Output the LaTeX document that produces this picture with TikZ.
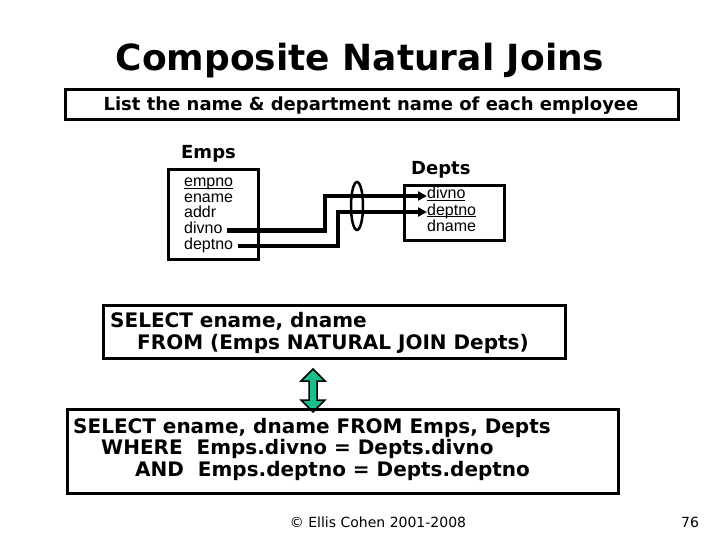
\documentclass[tikz,border=0pt]{standalone}
\usepackage{fontspec}
\setmainfont{DejaVu Sans}
\newfontfamily\arialf{Liberation Sans}
\usetikzlibrary{arrows.meta,shapes.geometric}
\definecolor{arrgreen}{RGB}{26,190,140}
\newcommand{\ul}[1]{\underline{\smash{#1}}}
\tikzset{
  frame/.style={draw=black,line width=3pt},
  boldtxt/.style={font=\bfseries,inner sep=0pt},
  sqltxt/.style={inner sep=0pt,anchor=base west,font=\bfseries\fontsize{20}{20}\selectfont},
  fld/.style={font=\arialf\fontsize{16}{16}\selectfont,inner sep=0pt,anchor=base west,text height=9pt,text depth=3pt},
  link/.style={line width=4pt,-{Triangle[length=9pt,width=9pt]}},
}
\begin{document}
\begin{tikzpicture}[x=1pt,y=-1pt]
\useasboundingbox (0,0) rectangle (720,540);
% title
\node[boldtxt,font=\bfseries\fontsize{36}{36}\selectfont,anchor=base] (title) at (360,71) {Composite Natural Joins};
% question box
\draw[frame] (65,90) rectangle (678,120);
\node[boldtxt,font=\bfseries\fontsize{18}{18}\selectfont,anchor=base] (q) at (371,111) {List the name \& department name of each employee};
% Emps
\node[boldtxt,font=\bfseries\fontsize{18}{18}\selectfont,anchor=base west] (empsl) at (181,159) {Emps};
\draw[frame] (168,170) rectangle (258,259);
\node[fld] (empno) at (184,187) {\ul{empno}};
\node[fld] (ename) at (184,202.5) {ename};
\node[fld] (addr) at (184,218) {addr};
\node[fld] (divnoE) at (184,233.5) {divno};
\node[fld] (deptnoE) at (184,249) {deptno};
% Depts
\node[boldtxt,font=\bfseries\fontsize{18}{18}\selectfont,anchor=base west] (deptsl) at (411,175) {Depts};
\draw[frame] (404,186) rectangle (504,240);
\node[fld] (divnoD) at (427,199) {\ul{divno}};
\node[fld] (deptnoD) at (427,215) {\ul{deptno}};
\node[fld] (dname) at (427,231) {dname};
% connectors
\coordinate (j1) at (325,0);
\coordinate (j2) at (338,0);
\draw[link] ([xshift=4pt]divnoE.east) -- (divnoE.east -| j1) |- (divnoD.west);
\draw[link] ([xshift=5pt]deptnoE.east) -- (deptnoE.east -| j2) |- (deptnoD.west);
\node[ellipse,draw,line width=2.5pt,minimum width=12pt,minimum height=48pt,inner sep=0pt] (oval) at (357,206) {};
% SQL 1
\draw[frame] (103,305) rectangle (565,358);
\node[sqltxt] (s1a) at (110,327) {SELECT ename, dname};
\node[sqltxt] (s1b) at (137,349) {FROM (Emps NATURAL JOIN Depts)};
% double arrow
\draw[fill=arrgreen,line width=1.5pt,line join=miter]
  (313,369) -- (325,381) -- (317,381) -- (317,400) -- (325,400) -- (313,412)
  -- (301,400) -- (309,400) -- (309,381) -- (301,381) -- cycle;
% SQL 2
\draw[frame] (67,409) rectangle (618,493);
\node[sqltxt] (s2a) at (73,433) {SELECT ename, dname FROM Emps, Depts};
\node[sqltxt] (s2b) at (101,454) {WHERE\ \ Emps.divno = Depts.divno};
\node[sqltxt] (s2c) at (135,476) {AND\ \ Emps.deptno = Depts.deptno};
% footer
\node[inner sep=0pt,font=\fontsize{14}{14}\selectfont,anchor=base] (foot) at (378,527) {© Ellis Cohen 2001-2008};
\node[inner sep=0pt,font=\fontsize{14}{14}\selectfont,anchor=base] (pg) at (690,527) {76};
\end{tikzpicture}
\end{document}
